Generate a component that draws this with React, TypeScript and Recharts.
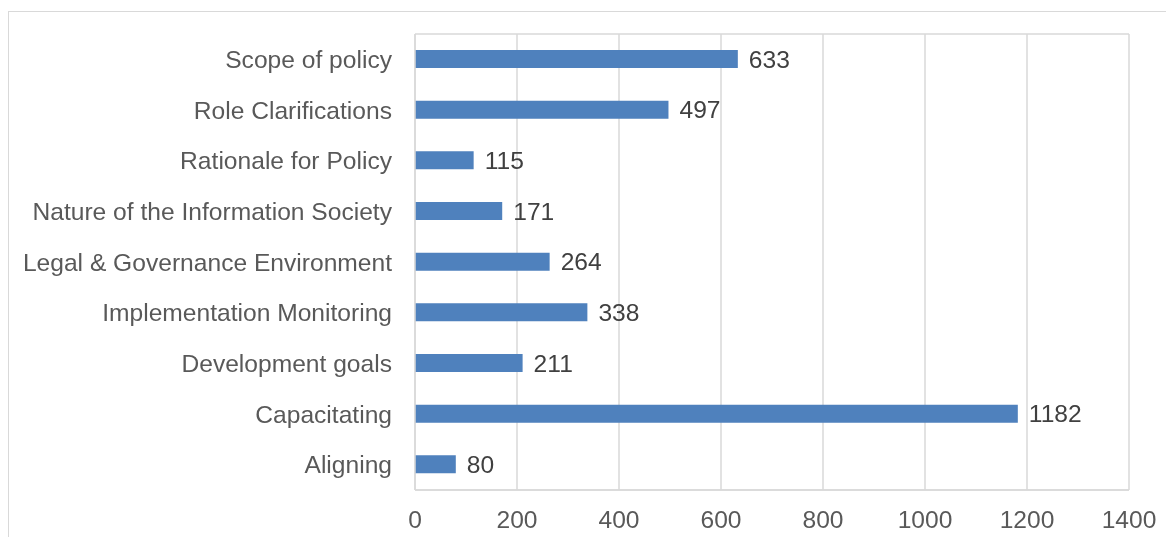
import { BarChart, Bar, XAxis, YAxis, CartesianGrid, LabelList } from 'recharts'

// categories listed top to bottom as they appear
const categories = [
  'Scope of policy',
  'Role Clarifications',
  'Rationale for Policy',
  'Nature of the Information Society',
  'Legal & Governance Environment',
  'Implementation Monitoring',
  'Development goals',
  'Capacitating',
  'Aligning',
]

const counts = [633, 497, 115, 171, 264, 338, 211, 1182, 80]

const xTicks = [0, 200, 400, 600, 800, 1000, 1200, 1400]

const FONT = 'Arial, "Liberation Sans", sans-serif'
const GRID = '#d9d9d9'
const FS = 24.6

export default function App() {
  const data = categories.map((name, i) => ({ name, value: counts[i] }))

  return (
    <>
      {/* outer chart frame, runs off the right and bottom edges */}
      <div
        style={{
          position: 'fixed',
          left: 8,
          top: 11,
          width: 1400,
          height: 800,
          border: `1px solid ${GRID}`,
          boxSizing: 'border-box',
        }}
      />
      <div style={{ position: 'fixed', left: 0, top: 0 }}>
        <BarChart
          width={1166}
          height={537}
          data={data}
          layout="vertical"
          margin={{ top: 34, right: 37, left: 0, bottom: 0 }}
          barCategoryGap={0}
        >
          <CartesianGrid
            stroke={GRID}
            strokeWidth={1.5}
            horizontalCoordinatesGenerator={({ offset }: any) => [offset.top, offset.top + offset.height]}
          />
          <XAxis
            type="number"
            domain={[0, 1400]}
            ticks={xTicks}
            interval={0}
            height={47}
            tickSize={0}
            tickMargin={21}
            axisLine={{ stroke: GRID, strokeWidth: 1.5 }}
            tickLine={false}
            tick={{ fontSize: FS, fill: '#595959', fontFamily: FONT }}
          />
          <YAxis
            type="category"
            dataKey="name"
            width={415}
            tickSize={0}
            tickMargin={23}
            interval={0}
            axisLine={{ stroke: GRID, strokeWidth: 1.5 }}
            tickLine={false}
            tick={{ fontSize: FS, fill: '#595959', fontFamily: FONT }}
          />
          <Bar dataKey="value" fill="#4f81bd" barSize={18} isAnimationActive={false}>
            <LabelList
              dataKey="value"
              position="right"
              offset={11}
              style={{ fontSize: FS, fill: '#404040', fontFamily: FONT }}
            />
          </Bar>
        </BarChart>
      </div>
    </>
  )
}
